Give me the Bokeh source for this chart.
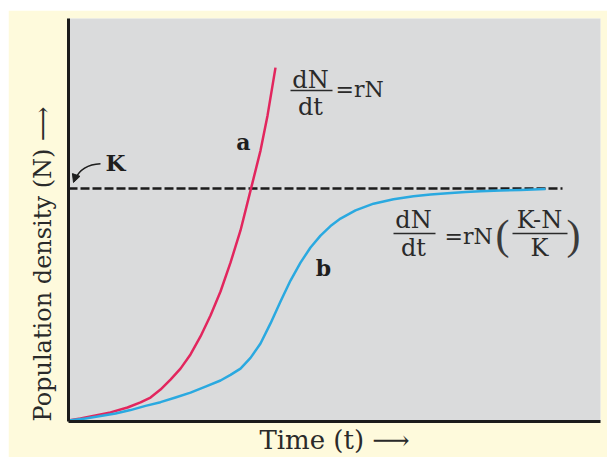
from bokeh.plotting import figure
from bokeh.models import Range1d, FixedTicker, Title, Arrow, NormalHead
from bokeh.core.properties import value
from bokeh.embed import file_html
from bokeh.resources import INLINE

# ---- data (K = 1) ----
time_a = [0.0, 0.24, 0.54, 0.84, 1.18, 1.44, 1.64, 1.84, 2.04, 2.24, 2.44, 2.64, 2.84,
          3.04, 3.24, 3.44, 3.64, 3.84, 3.98, 4.14]
density_a = [0.004, 0.013, 0.026, 0.039, 0.060, 0.082, 0.103, 0.137, 0.180, 0.227, 0.288,
             0.365, 0.455, 0.558, 0.682, 0.820, 0.991, 1.163, 1.313, 1.519]

time_b = [0.0, 0.34, 0.64, 0.94, 1.24, 1.54, 1.84, 2.14, 2.44, 2.74, 3.04, 3.24, 3.44,
          3.64, 3.84, 4.04, 4.24, 4.44, 4.64, 4.84, 5.04, 5.24, 5.44, 5.74, 6.10, 6.50,
          6.90, 7.24, 7.58, 7.94, 8.24, 8.64, 9.04, 9.54]
density_b = [0.004, 0.013, 0.024, 0.034, 0.049, 0.067, 0.083, 0.103, 0.124, 0.150, 0.176,
             0.200, 0.227, 0.273, 0.335, 0.421, 0.515, 0.605, 0.682, 0.747, 0.798, 0.839,
             0.871, 0.906, 0.935, 0.954, 0.967, 0.974, 0.980, 0.985, 0.988, 0.992, 0.994,
             0.998]

K = 1.0
k_line_x = [0.0, 9.88]

x_label = "Time (t) \u27f6"
y_label = "Population density (N) \u27f6"

SERIF = value("DejaVu Serif")
CREAM = "#fefadc"
GRAY = "#dadbdc"
RED = "#e2265e"
BLUE = "#2aa9e0"
INK = "#2a2a2a"

p = figure(width=599, height=447, margin=(10, 0, 0, 8),
           output_backend="svg", toolbar_location=None,
           x_range=Range1d(0, 10.64), y_range=Range1d(0, 1.73),
           min_border_left=60, min_border_top=8, min_border_right=7, min_border_bottom=36)
p.background_fill_color = GRAY
p.border_fill_color = CREAM
p.outline_line_color = None
p.grid.visible = False

for ax in (p.xaxis, p.yaxis):
    ax.ticker = FixedTicker(ticks=[])
    ax.major_tick_line_color = None
    ax.minor_tick_line_color = None
    ax.major_tick_out = 0
    ax.major_tick_in = 0
    ax.minor_tick_out = 0
    ax.major_label_standoff = 0
    ax.major_label_text_font_size = "0px"
    ax.axis_line_width = 3
    ax.axis_line_color = "#1b1b1b"

p.xaxis.axis_label = x_label
p.xaxis.axis_label_text_font = "DejaVu Serif"
p.xaxis.axis_label_text_font_style = "normal"
p.xaxis.axis_label_text_font_size = "26px"
p.xaxis.axis_label_text_color = INK
p.xaxis.axis_label_standoff = 3

p.add_layout(Title(text=y_label, align="left", offset=0, standoff=24,
                   text_font="DejaVu Serif", text_font_style="normal",
                   text_font_size="24px", text_color=INK), "left")

# carrying capacity
p.line(k_line_x, [K, K], line_color="#1b1b1b", line_width=2.5, line_dash="9 3")

# curves
p.line(time_a, density_a, line_color=RED, line_width=2.5, line_join="round")
p.line(time_b, density_b, line_color=BLUE, line_width=2.5, line_join="round")

# labels a, b, K
p.text(x=[3.50, 5.10], y=[1.20, 0.66], text=["a", "b"], text_font=SERIF,
       text_font_style="bold", text_font_size="22px", text_color="#1e1e1e",
       text_align="center", text_baseline="middle")
p.text(x=[0.94], y=[1.11], text=["K"], text_font=SERIF, text_font_style="bold",
       text_font_size="23px", text_color="#1e1e1e",
       text_align="center", text_baseline="middle")
p.quadratic(x0=[0.64], y0=[1.107], x1=[0.13], y1=[1.04], cx=[0.26], cy=[1.103],
            line_color="#1e1e1e", line_width=1.5)
p.add_layout(Arrow(x_start=0.15, y_start=1.056, x_end=0.10, y_end=1.026,
                   line_width=1, line_color="#1e1e1e",
                   end=NormalHead(size=8, fill_color="#1e1e1e", line_color="#1e1e1e")))

# equation 1: dN/dt = rN
frac_kw = dict(text_font=SERIF, text_font_size="24px", text_color=INK,
               text_baseline="middle", text_align="center")
rhs_kw = dict(text_font=SERIF, text_font_size="22px", text_color=INK,
              text_baseline="middle", text_align="left")
p.text(x=[4.84, 4.84], y=[1.468, 1.352], text=["dN", "dt"], **frac_kw)
p.segment(x0=[4.44], y0=[1.421], x1=[5.28], y1=[1.421], line_color=INK, line_width=1.5)
p.text(x=[5.34], y=[1.424], text=["=rN"], **rhs_kw)

# equation 2: dN/dt = rN((K-N)/K)
p.text(x=[6.90, 6.90], y=[0.867, 0.744], text=["dN", "dt"], **frac_kw)
p.segment(x0=[6.50], y0=[0.807], x1=[7.34], y1=[0.807], line_color=INK, line_width=1.5)
p.text(x=[7.52], y=[0.794], text=["=rN"], **rhs_kw)
p.text(x=[8.68, 10.10], y=[0.80, 0.80], text=["(", ")"], text_align="center",
       text_font=value("Liberation Serif"), text_font_size="42px", text_color="#3a3a3a",
       text_baseline="middle")
p.text(x=[9.42, 9.42], y=[0.867, 0.744], text=["K-N", "K"], **frac_kw)
p.segment(x0=[8.88], y0=[0.807], x1=[9.98], y1=[0.807], line_color=INK, line_width=1.5)

open("out.html", "w").write(file_html(p, INLINE))
